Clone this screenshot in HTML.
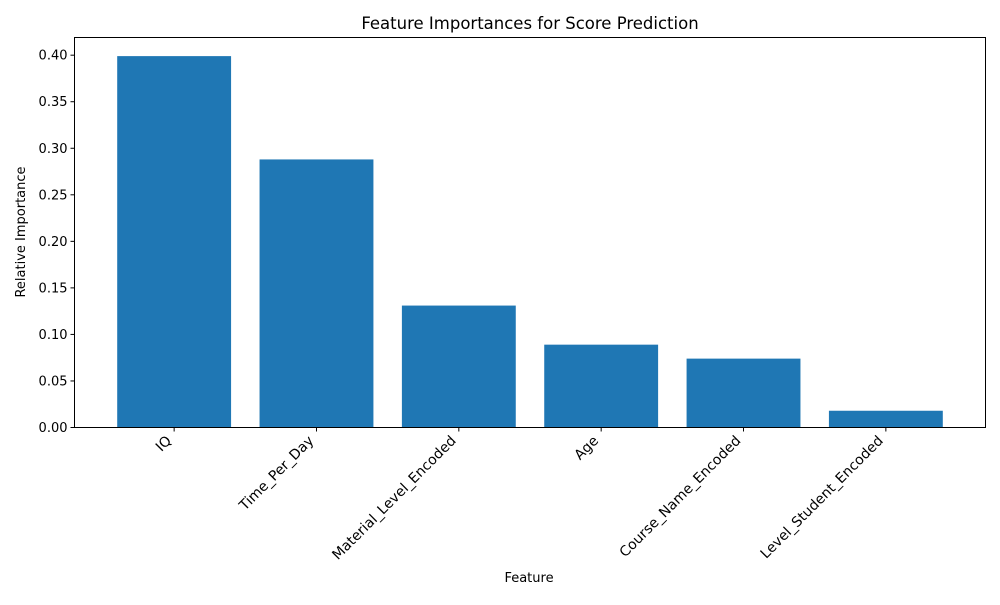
<!DOCTYPE html>
<html><head><meta charset="utf-8"><style>body{margin:0;background:#fff}svg{font-family:"DejaVu Sans","Liberation Sans",sans-serif}</style></head>
<body>
<svg id="chart" width="1000" height="600">
<text x="530" y="29" text-anchor="middle" font-size="16.5">Feature Importances for Score Prediction</text>
<g id="bars"></g>
<g id="yaxis"></g>
<g id="xaxis"></g>
<rect x="74.5" y="37.5" width="911" height="390" fill="none" stroke="#000" stroke-width="1"/>
<text x="529" y="582" text-anchor="middle" font-size="13">Feature</text>
<text transform="translate(25,232) rotate(-90)" text-anchor="middle" font-size="13">Relative Importance</text>
</svg>
<script>
const categories=["IQ","Time_Per_Day","Material_Level_Encoded","Age","Course_Name_Encoded","Level_Student_Encoded"];
const values=[0.399,0.288,0.131,0.089,0.074,0.018];
const yTicks=[0,0.05,0.10,0.15,0.20,0.25,0.30,0.35,0.40];
const yTickLabels=["0.00","0.05","0.10","0.15","0.20","0.25","0.30","0.35","0.40"];
const NS="http://www.w3.org/2000/svg";
const L=74.5,R=985.5,T=37.5,B=427.5;
const yMax=0.419;
function y(v){return B-(v/yMax)*(B-T);}
const step=(R-L)/(categories.length-1+1.4);
function x(i){return L+step*(0.7+i);}
const bw=step*0.8;
const gb=document.getElementById('bars'),gy=document.getElementById('yaxis'),gx=document.getElementById('xaxis');
function mk(tag,attrs,parent){const e=document.createElementNS(NS,tag);for(const k in attrs)e.setAttribute(k,attrs[k]);parent.appendChild(e);return e;}
values.forEach((v,i)=>{
 const r=mk('rect',{x:x(i)-bw/2,y:y(v),width:bw,height:B-y(v),fill:'#1f77b4'},gb);
 
 
 const t=mk('line',{x1:x(i),x2:x(i),y1:B,y2:B+4,stroke:'#000'},gx);
 
 
 const lb=mk('text',{transform:`translate(${x(i)-2},${B+14}) rotate(-45)`,'text-anchor':'end','font-size':'14'},gx);
 lb.textContent=categories[i];
 
 
});
yTicks.forEach((v,i)=>{
 const t=mk('line',{x1:L-4,x2:L,y1:y(v),y2:y(v),stroke:'#000'},gy);
 
 
 const lb=mk('text',{x:L-7,y:y(v)+4.5,'text-anchor':'end','font-size':'13'},gy);
 lb.textContent=yTickLabels[i];
 
 
});
</script>
</body></html>
